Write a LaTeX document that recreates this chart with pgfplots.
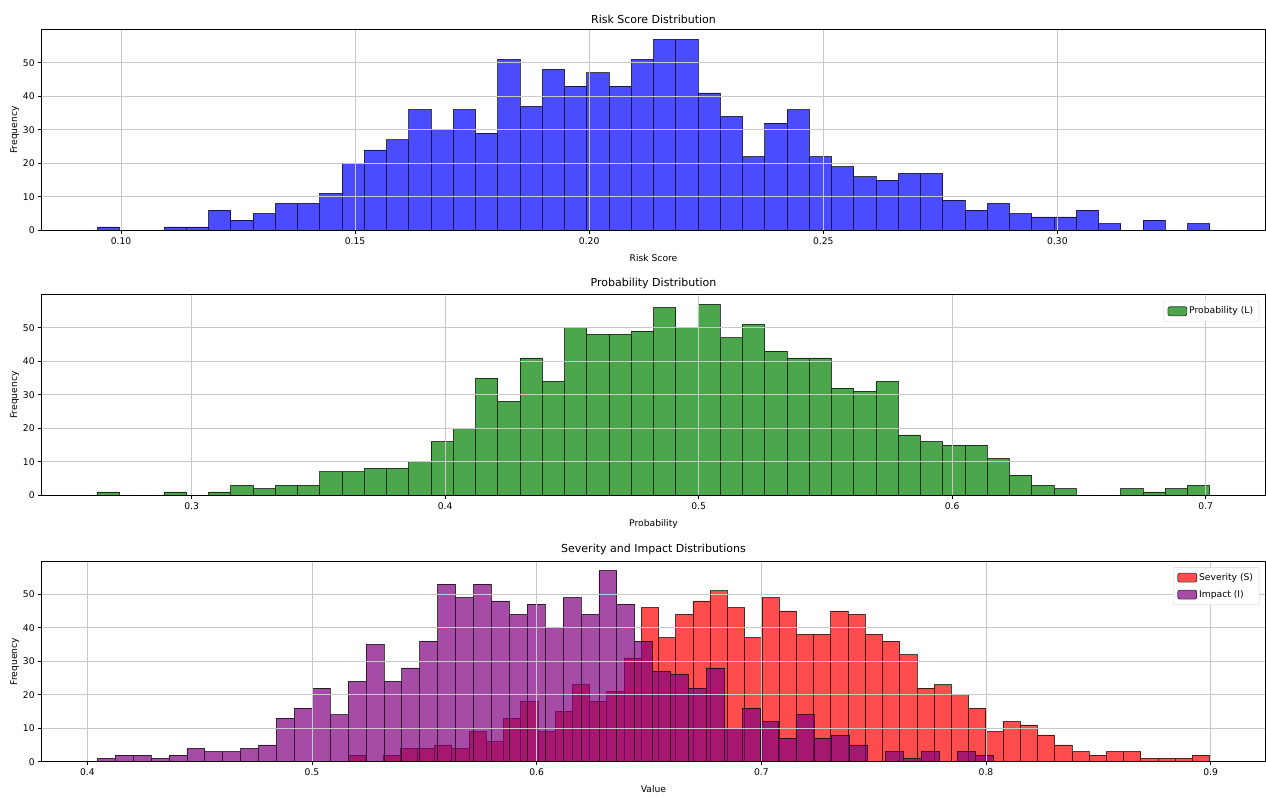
\documentclass[border=0pt]{standalone}
\usepackage{pgfplots}
\pgfplotsset{compat=1.18}
\usepackage{fontspec}
\setmainfont{DejaVu Sans}
\definecolor{mblue}{RGB}{0,0,255}
\definecolor{mgreen}{RGB}{0,128,0}
\definecolor{mred}{RGB}{255,0,0}
\definecolor{mpurple}{RGB}{128,0,128}
\definecolor{gridc}{RGB}{200,200,200}
\definecolor{legc}{RGB}{210,210,210}
\pgfplotsset{
  myax/.style={
    scale only axis, width=1223.6pt, height=200.5pt,
    ymin=0, ymax=59.85, ytick={0,10,20,30,40,50},
    grid=major, major grid style={draw=gridc, line width=0.8pt},
    axis on top, tick align=outside, tick pos=left, major tick length=3.5pt,
    axis line style={line width=0.8pt, black},
    tick style={black, line width=0.8pt},
    ticklabel style={font=\fontsize{9.2}{11}\selectfont},
    label style={font=\fontsize{9.2}{11}\selectfont},
    xlabel shift=3pt, ylabel shift=-3pt,
    title style={font=\fontsize{11}{13}\selectfont, inner sep=2pt, yshift=-2pt},
    ylabel={Frequency},
    /pgf/number format/assume math mode=true,
    scaled ticks=false,
    yticklabel style={/pgf/number format/fixed, /pgf/number format/precision=0},
    legend style={at={(1,1)}, anchor=north east, xshift=-6pt, yshift=-6pt,
      draw=legc, rounded corners=2pt, font=\fontsize{9.2}{11}\selectfont,
      row sep=4.5pt, inner xsep=4pt, inner ysep=4pt},
    legend cell align=left,
  },
  histbar/.style={ybar interval, draw=black, line width=0.7pt, opacity=0.7, fill=#1,
    legend image code/.code={\draw[draw=black, fill=#1, opacity=0.7, line width=0.7pt] (0pt,-4.5pt) rectangle (19pt,4.5pt);}},
}
\begin{document}
\begin{tikzpicture}[x=1pt,y=1pt]
\useasboundingbox (0,0) rectangle (1266,796);
% ---------------- Risk score ----------------
\begin{axis}[myax, at={(41.7pt,565.7pt)}, anchor=south west,
  xmin=0.083064, xmax=0.3444,
  xtick={0.10,0.15,0.20,0.25,0.30},
  xticklabel style={/pgf/number format/fixed, /pgf/number format/precision=2, /pgf/number format/fixed zerofill},
  title={Risk Score Distribution}, xlabel={Risk Score}]
\addplot[histbar=mblue] coordinates {
(0.094943,1) (0.099695,0) (0.104447,0) (0.109199,1) (0.113951,1)
(0.118703,6) (0.123455,3) (0.128207,5) (0.132959,8) (0.137711,8)
(0.142463,11) (0.147215,20) (0.151967,24) (0.156719,27) (0.161471,36)
(0.166223,30) (0.170975,36) (0.175727,29) (0.180479,51) (0.185231,37)
(0.189983,48) (0.194735,43) (0.199487,47) (0.204239,43) (0.208991,51)
(0.213743,57) (0.218495,57) (0.223247,41) (0.227999,34) (0.232751,22)
(0.237503,32) (0.242255,36) (0.247007,22) (0.251759,19) (0.256511,16)
(0.261263,15) (0.266015,17) (0.270767,17) (0.275519,9) (0.280271,6)
(0.285023,8) (0.289775,5) (0.294527,4) (0.299279,4) (0.304031,6)
(0.308783,2) (0.313535,0) (0.318287,3) (0.323039,0) (0.327791,2)
(0.332543,0)};
\end{axis}
% ---------------- Probability ----------------
\begin{axis}[myax, at={(41.7pt,300.7pt)}, anchor=south west,
  xmin=0.24086, xmax=0.72352,
  xtick={0.3,0.4,0.5,0.6,0.7},
  xticklabel style={/pgf/number format/fixed, /pgf/number format/precision=1, /pgf/number format/fixed zerofill},
  title={Probability Distribution}, xlabel={Probability}]
\addplot[histbar=mgreen] coordinates {
(0.262800,1) (0.271576,0) (0.280351,0) (0.289127,1) (0.297902,0)
(0.306678,1) (0.315454,3) (0.324229,2) (0.333005,3) (0.341780,3)
(0.350556,7) (0.359332,7) (0.368107,8) (0.376883,8) (0.385658,10)
(0.394434,16) (0.403210,20) (0.411985,35) (0.420761,28) (0.429536,41)
(0.438312,34) (0.447088,50) (0.455863,48) (0.464639,48) (0.473414,49)
(0.482190,56) (0.490966,50) (0.499741,57) (0.508517,47) (0.517292,51)
(0.526068,43) (0.534844,41) (0.543619,41) (0.552395,32) (0.561170,31)
(0.569946,34) (0.578722,18) (0.587497,16) (0.596273,15) (0.605048,15)
(0.613824,11) (0.622600,6) (0.631375,3) (0.640151,2) (0.648926,0)
(0.657702,0) (0.666478,2) (0.675253,1) (0.684029,2) (0.692804,3)
(0.701580,0)};
\addlegendentry{Probability (L)}
\end{axis}
% ---------------- Severity and Impact ----------------
\begin{axis}[myax, at={(41.7pt,34.3pt)}, anchor=south west,
  xmin=0.379695, xmax=0.924305,
  xtick={0.4,0.5,0.6,0.7,0.8,0.9},
  xticklabel style={/pgf/number format/fixed, /pgf/number format/precision=1, /pgf/number format/fixed zerofill},
  title={Severity and Impact Distributions}, xlabel={Value}]
\addplot[histbar=mred] coordinates {
(0.516240,2) (0.523906,0) (0.531572,2) (0.539239,4) (0.546905,4)
(0.554571,5) (0.562237,4) (0.569903,9) (0.577570,6) (0.585236,13)
(0.592902,18) (0.600568,9) (0.608234,15) (0.615901,23) (0.623567,18)
(0.631233,21) (0.638899,31) (0.646565,46) (0.654232,37) (0.661898,44)
(0.669564,48) (0.677230,51) (0.684896,46) (0.692563,37) (0.700229,49)
(0.707895,45) (0.715561,38) (0.723227,38) (0.730894,45) (0.738560,44)
(0.746226,38) (0.753892,36) (0.761558,32) (0.769225,22) (0.776891,23)
(0.784557,20) (0.792223,16) (0.799889,9) (0.807556,12) (0.815222,11)
(0.822888,8) (0.830554,5) (0.838220,3) (0.845887,2) (0.853553,3)
(0.861219,3) (0.868885,1) (0.876551,1) (0.884218,1) (0.891884,2)
(0.899550,0)};
\addlegendentry{Severity (S)}
\addplot[histbar=mpurple] coordinates {
(0.404450,1) (0.412423,2) (0.420396,2) (0.428370,1) (0.436343,2)
(0.444316,4) (0.452289,3) (0.460262,3) (0.468236,4) (0.476209,5)
(0.484182,13) (0.492155,16) (0.500128,22) (0.508102,14) (0.516075,24)
(0.524048,35) (0.532021,24) (0.539994,28) (0.547968,36) (0.555941,53)
(0.563914,49) (0.571887,53) (0.579860,48) (0.587834,44) (0.595807,47)
(0.603780,40) (0.611753,49) (0.619726,44) (0.627700,57) (0.635673,47)
(0.643646,36) (0.651619,27) (0.659592,26) (0.667566,22) (0.675539,28)
(0.683512,10) (0.691485,16) (0.699458,12) (0.707432,7) (0.715405,14)
(0.723378,7) (0.731351,8) (0.739324,5) (0.747298,0) (0.755271,3)
(0.763244,1) (0.771217,3) (0.779190,0) (0.787164,3) (0.795137,2)
(0.803110,0)};
\addlegendentry{Impact (I)}
\end{axis}
\end{tikzpicture}
\end{document}
